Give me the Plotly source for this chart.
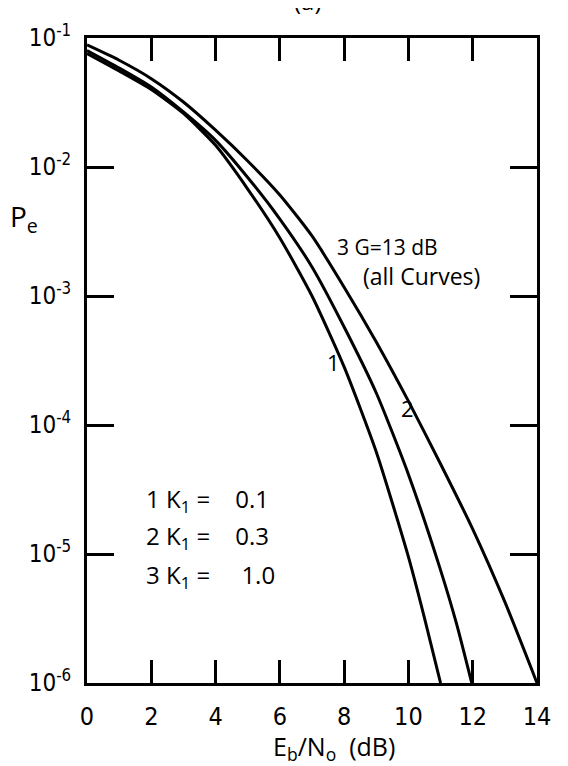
import plotly.graph_objects as go

# ---- data ----
ebno_k01 = [0, 1, 2, 3, 4, 5, 6, 7, 8, 9, 10, 10.5, 11.0]
pe_k01 = [0.0758, 0.0555, 0.0399, 0.0260, 0.01472, 0.00675, 0.00282, 1.00e-3,
          2.82e-4, 6.18e-5, 9.5e-6, 3.19e-6, 1.0e-6]

ebno_k03 = [0, 1, 2, 3, 4, 5, 6, 7, 8, 9, 10, 11, 11.5, 11.97]
pe_k03 = [0.0800, 0.0585, 0.0417, 0.0267, 0.0161, 0.00830, 0.00395, 0.00168,
          5.75e-4, 1.77e-4, 4.14e-5, 7.5e-6, 2.86e-6, 1.0e-6]

ebno_k10 = [0, 1, 2, 3, 4, 5, 6, 7, 8, 9, 10, 11, 12, 13, 14]
pe_k10 = [0.0883, 0.0672, 0.0484, 0.0319, 0.0193, 0.01114, 0.00607, 0.00292,
          0.00117, 4.40e-4, 1.53e-4, 4.99e-5, 1.56e-5, 4.25e-6, 1.0e-6]

x_ticks = [0, 2, 4, 6, 8, 10, 12, 14]
y_ticks = [1e-6, 1e-5, 1e-4, 1e-3, 1e-2, 1e-1]
y_ticktext = ["10<sup>-6</sup>", "10<sup>-5</sup>", "10<sup>-4</sup>",
              "10<sup>-3</sup>", "10<sup>-2</sup>", "10<sup>-1</sup>"]

legend_rows = ["1 K<sub>1</sub> =\u00a0\u00a0\u00a0 0.1",
               "2 K<sub>1</sub> =\u00a0\u00a0\u00a0 0.3",
               "3 K<sub>1</sub> =\u00a0\u00a0\u00a0\u00a0 1.0"]

W, H = 568, 766
L, R, T, B = 79, 39, 21, 91
PW, PH = W - L - R, H - T - B


def px(xp):
    return (xp - L) / PW


def py(yp):
    return (H - B - yp) / PH


TXT = "Open Sans, Lato, sans-serif"
NUM = "Liberation Sans Narrow, DejaVu Sans Condensed, Roboto, sans-serif"

fig = go.Figure()
for xs, ys in [(ebno_k01, pe_k01), (ebno_k03, pe_k03), (ebno_k10, pe_k10)]:
    fig.add_trace(go.Scatter(x=xs, y=ys, mode="lines",
                             line=dict(color="black", width=3, shape="spline", smoothing=0.6),
                             showlegend=False, hoverinfo="skip"))

ann = []
ann.append(dict(text="(a)", x=px(300), y=py(2), xanchor="center", yanchor="bottom",
                font=dict(size=24, family=TXT)))
ann.append(dict(text="P<sub>e</sub>", x=px(16), y=py(204), xanchor="center", yanchor="middle",
                font=dict(size=28, family=TXT)))
ann.append(dict(text="3 G=13 dB", x=px(327), y=py(233), xanchor="left", yanchor="middle",
                font=dict(size=21, family=TXT)))
ann.append(dict(text="(all Curves)", x=px(353), y=py(262), xanchor="left", yanchor="middle",
                font=dict(size=23, family=TXT)))
ann.append(dict(text="1", x=px(325), y=py(350), xanchor="center", yanchor="middle",
                font=dict(size=22, family=TXT)))
ann.append(dict(text="2", x=px(399), y=py(396), xanchor="center", yanchor="middle",
                font=dict(size=22, family=TXT)))
for row, yy in zip(legend_rows, [489, 527, 566]):
    ann.append(dict(text=row, x=px(136), y=py(yy), xanchor="left", yanchor="middle",
                    font=dict(size=24, family=TXT)))
ann.append(dict(text="E<sub>b</sub>/N<sub>o</sub>\u00a0 (dB)", x=px(326), y=py(740),
                xanchor="center", yanchor="middle", font=dict(size=25, family=TXT)))
for a in ann:
    a.update(xref="paper", yref="paper", showarrow=False)
    a["font"]["color"] = "black"

fig.update_layout(
    width=W, height=H, margin=dict(l=L, r=R, t=T, b=B, pad=0),
    paper_bgcolor="white", plot_bgcolor="white",
    annotations=ann, showlegend=False,
)
fig.update_xaxes(range=[0, 14], tickvals=x_ticks, ticktext=[str(v) for v in x_ticks],
                 ticks="inside", ticklen=23, tickwidth=2.5, tickcolor="black",
                 showline=True, linewidth=3, linecolor="black", mirror="ticks",
                 showgrid=False, zeroline=False, ticklabelstandoff=9,
                 ticklabeloverflow="allow",
                 tickfont=dict(size=25, family=NUM, color="black"))
fig.update_yaxes(type="log", range=[-6, -1], tickvals=y_ticks, ticktext=y_ticktext,
                 ticks="inside", ticklen=27, tickwidth=2.5, tickcolor="black",
                 showline=True, linewidth=3, linecolor="black", mirror="ticks",
                 showgrid=False, zeroline=False, ticklabelstandoff=8,
                 ticklabeloverflow="allow",
                 tickfont=dict(size=24, family=NUM, color="black"))

fig.write_html("out.html")
